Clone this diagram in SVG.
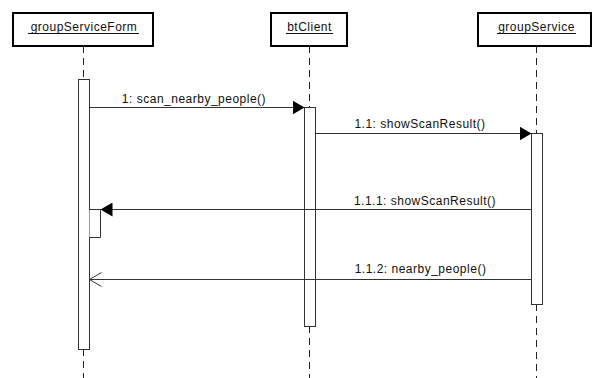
<svg xmlns="http://www.w3.org/2000/svg" width="601" height="378" viewBox="0 0 601 378">
<style>
.obj{fill:#fff;stroke:#000;stroke-width:2}
.lbl{font-family:"Liberation Sans",Arial,sans-serif;font-size:12px;letter-spacing:0.5px;fill:#111;text-anchor:middle}
.ul{stroke:#111;stroke-width:1}
.life{stroke:#222;stroke-width:1;stroke-dasharray:7,5;fill:none}
.act{fill:#fff;stroke:#333;stroke-width:1}
.msg{stroke:#333;stroke-width:1;fill:none}
</style>
<defs>
<marker id="filled" markerWidth="13" markerHeight="14" refX="12" refY="7" orient="auto" markerUnits="userSpaceOnUse">
<path d="M0,0 L12,7 L0,14 Z" fill="#000"/>
</marker>
<marker id="open" markerWidth="13" markerHeight="16" refX="12" refY="8" orient="auto" markerUnits="userSpaceOnUse">
<path d="M0,1 L12,8 L0,15" fill="none" stroke="#333" stroke-width="1"/>
</marker>
</defs>
<rect width="601" height="378" fill="#fff"/>
<g id="groupServiceForm">
<line class="life" x1="83.5" y1="46" x2="83.5" y2="79"/>
<line class="life" x1="83.5" y1="349" x2="83.5" y2="378"/>
<rect class="obj" x="13" y="13" width="140" height="33"/>
<text class="lbl" x="84" y="31">groupServiceForm</text>
<line class="ul" x1="28" y1="33.5" x2="139" y2="33.5"/>
<rect class="act" x="78.5" y="79.5" width="11" height="270"/>
<path class="act" d="M89.5,209.5 H100.5 V237.5 H89.5"/>
</g>
<g id="btClient">
<line class="life" x1="309.5" y1="46" x2="309.5" y2="107"/>
<line class="life" x1="309.5" y1="326" x2="309.5" y2="378"/>
<rect class="obj" x="271" y="13" width="76" height="33"/>
<text class="lbl" x="309.5" y="31">btClient</text>
<line class="ul" x1="286" y1="33.5" x2="333" y2="33.5"/>
<rect class="act" x="304.5" y="107.5" width="11" height="219"/>
</g>
<g id="groupService">
<line class="life" x1="536.5" y1="46" x2="536.5" y2="133"/>
<line class="life" x1="536.5" y1="304" x2="536.5" y2="378"/>
<rect class="obj" x="478" y="13" width="113" height="33"/>
<text class="lbl" x="536.5" y="31">groupService</text>
<line class="ul" x1="497" y1="33.5" x2="576" y2="33.5"/>
<rect class="act" x="531.5" y="133.5" width="11" height="171"/>
</g>
<g id="connectors">
<line class="msg" x1="89.5" y1="107.5" x2="304.5" y2="107.5" marker-end="url(#filled)"/>
<text class="lbl" x="194" y="103">1: scan_nearby_people()</text>
<line class="msg" x1="315.5" y1="133.5" x2="531.5" y2="133.5" marker-end="url(#filled)"/>
<text class="lbl" x="420" y="128">1.1: showScanResult()</text>
<line class="msg" x1="531.5" y1="209.5" x2="100.5" y2="209.5" marker-end="url(#filled)"/>
<text class="lbl" x="425" y="205">1.1.1: showScanResult()</text>
<line class="msg" x1="531.5" y1="279.5" x2="89.5" y2="279.5" marker-end="url(#open)"/>
<text class="lbl" x="420.5" y="273">1.1.2: nearby_people()</text>
</g>
</svg>
